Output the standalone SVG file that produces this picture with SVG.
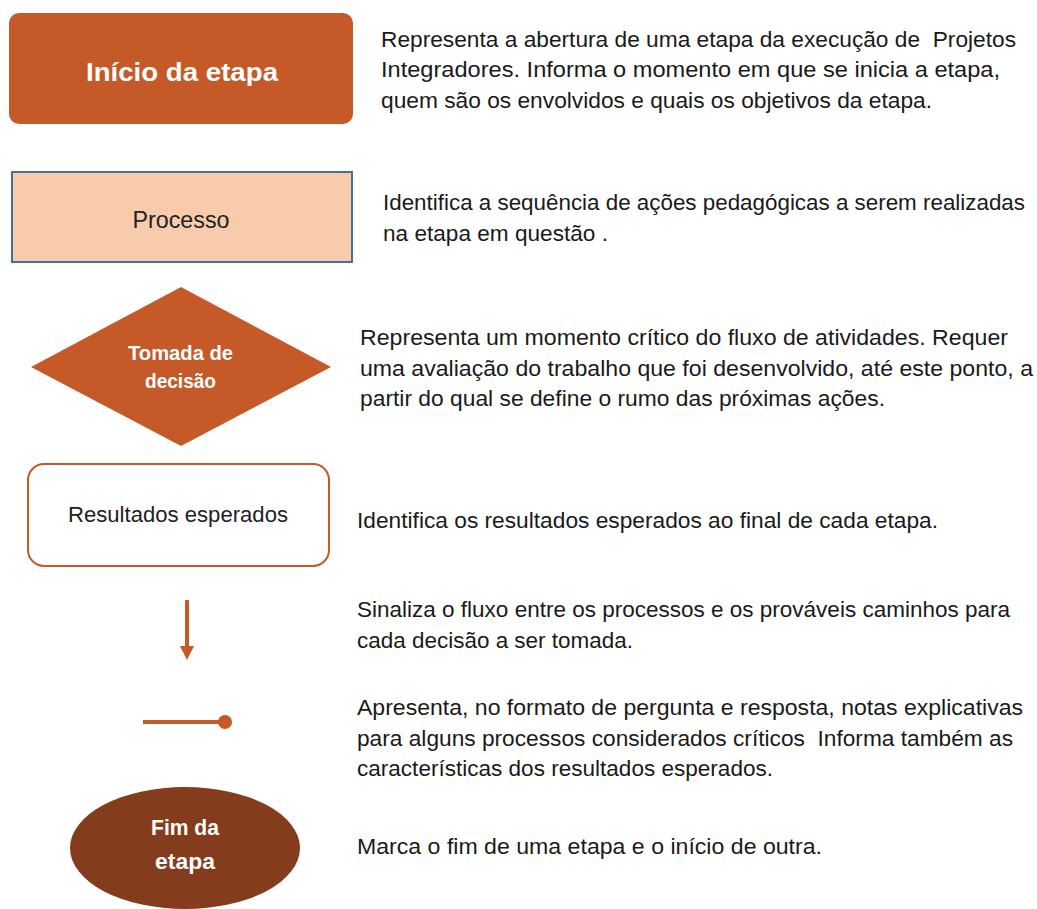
<svg xmlns="http://www.w3.org/2000/svg" width="1037" height="909" viewBox="0 0 1037 909">
<style>
.desc{font-family:"Liberation Sans",Arial,sans-serif;font-size:22.5px;fill:#1a1a1a}
.lbl{font-family:"Liberation Sans",Arial,sans-serif;fill:#222;text-anchor:middle}
.wb{font-family:"Liberation Sans",Arial,sans-serif;font-weight:bold;fill:#fff;text-anchor:middle}
.org{fill:#C55A28}
</style>
<rect width="1037" height="909" fill="#fff"/>
<g id="inicio">
<rect x="9" y="13" width="344" height="111" rx="10" class="org"/>
<text x="182" y="81" class="wb" font-size="26.5" textLength="192" lengthAdjust="spacingAndGlyphs">Início da etapa</text>
</g>
<g id="processo">
<rect x="12" y="172" width="340" height="90" fill="#F8CBAD" stroke="#41719C" stroke-width="2"/>
<text x="181" y="228" class="lbl" font-size="23" textLength="97" lengthAdjust="spacingAndGlyphs">Processo</text>
</g>
<g id="decisao">
<polygon points="181,287 331,367 181,446 31,367" class="org"/>
<text x="180.5" y="360" class="wb" font-size="20.5" textLength="105" lengthAdjust="spacingAndGlyphs">Tomada de</text>
<text x="180.5" y="388" class="wb" font-size="20.5" textLength="71" lengthAdjust="spacingAndGlyphs">decisão</text>
</g>
<g id="resultados">
<rect x="28" y="464" width="301" height="102" rx="16" fill="#fff" stroke="#C55A28" stroke-width="2"/>
<text x="178" y="522" class="lbl" font-size="22.4" textLength="220" lengthAdjust="spacingAndGlyphs">Resultados esperados</text>
</g>
<g id="connectors">
<line x1="187" y1="600" x2="187" y2="648" stroke="#C55A28" stroke-width="4"/>
<polygon points="180,646 194,646 187,660" class="org"/>
<line x1="143" y1="722" x2="225" y2="722" stroke="#C55A28" stroke-width="4"/>
<circle cx="225" cy="722" r="7" class="org"/>
</g>
<g id="fim">
<ellipse cx="185" cy="848" rx="115" ry="61" fill="#843C1C"/>
<text x="185" y="835" class="wb" font-size="22" textLength="68" lengthAdjust="spacingAndGlyphs">Fim da</text>
<text x="185" y="869" class="wb" font-size="22" textLength="60" lengthAdjust="spacingAndGlyphs">etapa</text>
</g>
<g id="descricoes">
<text x="381" y="46.5" class="desc" xml:space="preserve" textLength="635" lengthAdjust="spacingAndGlyphs">Representa a abertura de uma etapa da execução de  Projetos</text>
<text x="381" y="77" class="desc" textLength="619" lengthAdjust="spacingAndGlyphs">Integradores. Informa o momento em que se inicia a etapa,</text>
<text x="381" y="107.5" class="desc" textLength="551" lengthAdjust="spacingAndGlyphs">quem são os envolvidos e quais os objetivos da etapa.</text>
<text x="383" y="210" class="desc" textLength="642" lengthAdjust="spacingAndGlyphs">Identifica a sequência de ações pedagógicas a serem realizadas</text>
<text x="383" y="241" class="desc" textLength="225" lengthAdjust="spacingAndGlyphs">na etapa em questão .</text>
<text x="360" y="345" class="desc" textLength="648" lengthAdjust="spacingAndGlyphs">Representa um momento crítico do fluxo de atividades. Requer</text>
<text x="360" y="375.5" class="desc" textLength="673" lengthAdjust="spacingAndGlyphs">uma avaliação do trabalho que foi desenvolvido, até este ponto, a</text>
<text x="360" y="406" class="desc" textLength="525" lengthAdjust="spacingAndGlyphs">partir do qual se define o rumo das próximas ações.</text>
<text x="357" y="528" class="desc" textLength="581" lengthAdjust="spacingAndGlyphs">Identifica os resultados esperados ao final de cada etapa.</text>
<text x="357" y="617" class="desc" textLength="653" lengthAdjust="spacingAndGlyphs">Sinaliza o fluxo entre os processos e os prováveis caminhos para</text>
<text x="357" y="648" class="desc" textLength="276" lengthAdjust="spacingAndGlyphs">cada decisão a ser tomada.</text>
<text x="357" y="715" class="desc" textLength="666" lengthAdjust="spacingAndGlyphs">Apresenta, no formato de pergunta e resposta, notas explicativas</text>
<text x="357" y="745.5" class="desc" xml:space="preserve" textLength="656" lengthAdjust="spacingAndGlyphs">para alguns processos considerados críticos  Informa também as</text>
<text x="357" y="776" class="desc" textLength="416" lengthAdjust="spacingAndGlyphs">características dos resultados esperados.</text>
<text x="357" y="854" class="desc" textLength="465" lengthAdjust="spacingAndGlyphs">Marca o fim de uma etapa e o início de outra.</text>
</g>
</svg>
